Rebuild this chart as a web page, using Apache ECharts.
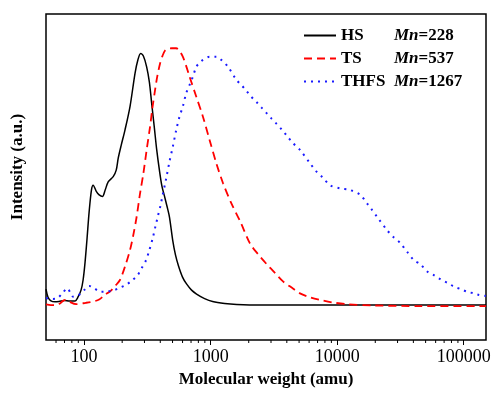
<!DOCTYPE html>
<html>
<head>
<meta charset="utf-8">
<script src="https://cdn.jsdelivr.net/npm/echarts@6/dist/echarts.min.js"></script>
<style>html,body{margin:0;padding:0;background:#fff}#c{width:494px;height:396px}</style>
</head>
<body>
<div id="c"></div>
<script>
// ---- data ----
var seriesNames = ['HS', 'TS', 'THFS'];
var mnValues = [228, 537, 1267];

var hsMW = [50, 51.8, 54.7, 58.9, 63.3, 70.3, 76.0, 84.9, 89.6, 94.6, 98.2, 101.8, 105.6, 109.6, 114.3, 117.9, 125.2, 131.5, 139.7, 146.8, 155.0, 169.9, 179.4, 186.1, 196.6, 210.4, 230.6, 252.6, 266.0, 279.9, 294.1, 312.1, 328, 342, 359.4, 375, 393.7, 412.1, 431.3, 451.5, 472.8, 502.4, 527.4, 557.4, 599.5, 645.0, 706.8, 774.2, 896, 1037, 1291, 1607, 2449, 5083, 10000, 50000, 150000];
var hsI = [15.6, 13.2, 12.0, 11.7, 11.8, 12.1, 12.0, 12.0, 13.2, 15.3, 18.4, 23.9, 31.3, 39.3, 46.0, 47.5, 45.5, 44.5, 44.0, 46.0, 48.5, 50.1, 52.1, 55.8, 59.8, 64.4, 71.6, 81.8, 85.9, 87.9, 87.1, 83.8, 79.1, 72.6, 65.0, 58.3, 52.1, 47.2, 44.2, 41.1, 37.7, 30.4, 26.1, 22.7, 19.3, 17.2, 15.3, 14.1, 12.7, 11.8, 11.2, 10.9, 10.7, 10.7, 10.7, 10.7, 10.7];

var tsMW = [50, 54.7, 59.6, 64.5, 68.1, 71.9, 76.0, 86.4, 103.1, 117.9, 131.5, 148.7, 160.8, 176.2, 192, 210.4, 230.6, 244.9, 260.2, 275.7, 294.1, 312.1, 332, 346.7, 363.9, 379.3, 398.9, 415.9, 436.5, 464.5, 493.1, 534.6, 567.5, 602.6, 641.2, 681, 770.6, 869.4, 982, 1109, 1253, 1459, 1730, 2040, 2360, 2767, 3221, 3750, 4395, 5083, 6105, 7328, 9290, 11940, 19300, 45600, 150000];
var tsI = [10.9, 10.7, 10.7, 11.2, 12.0, 12.3, 11.8, 11.0, 11.4, 11.8, 12.4, 14.1, 14.9, 16.6, 18.4, 22.5, 27.6, 32.2, 37.8, 44.5, 51.1, 58.3, 65.4, 71.2, 76.7, 81.0, 84.9, 87.1, 88.8, 89.4, 89.5, 89.5, 88.7, 86.9, 84.0, 80.8, 74.6, 68.5, 61.3, 54.2, 48.1, 41.9, 36.0, 29.7, 26.4, 23.3, 20.6, 17.9, 16.0, 14.3, 13.1, 12.3, 11.5, 11.0, 10.6, 10.4, 10.4];

var thfsMW = [50, 52.8, 56.8, 61.4, 67.3, 73.7, 77.4, 81.8, 88.0, 94.2, 100, 109.6, 117.9, 126.8, 136.5, 152.3, 173.0, 193.1, 214.3, 236.0, 264.9, 285.8, 309.0, 328, 348.4, 365.6, 381.8, 400.7, 418, 444.6, 472.8, 502.4, 534.6, 567.5, 602.6, 641.2, 681, 724.4, 770.6, 818.5, 869.4, 982, 1109, 1216, 1372, 1600, 1762, 1919, 2075, 2305, 2525, 2767, 3033, 3322, 3641, 3990, 4477, 5083, 6105, 6808, 7568, 8790, 10560, 12680, 15230, 17220, 18840, 20650, 24780, 27800, 31620, 35730, 40360, 45600, 51520, 58080, 65610, 74640, 83750, 94620, 106900, 120000, 132100, 149600];
var thfsI = [12.9, 12.7, 12.6, 12.8, 14.3, 15.9, 14.7, 13.3, 13.5, 14.3, 15.3, 16.6, 16.1, 15.3, 14.8, 14.9, 15.3, 16.1, 16.9, 18.1, 19.9, 22.1, 24.5, 27.6, 31.2, 34.7, 37.8, 41.1, 44.5, 49.4, 54.7, 59.3, 64.4, 68.5, 71.6, 75.7, 78.2, 80.8, 83.8, 85.1, 85.9, 86.9, 86.9, 85.9, 83.8, 79.8, 78.1, 76.4, 74.8, 73.0, 71.3, 69.6, 67.9, 66.3, 64.6, 62.7, 60.4, 58.3, 54.2, 51.8, 50.1, 47.5, 46.5, 46.0, 44.5, 41.9, 39.9, 37.8, 33.7, 31.6, 29.7, 27.0, 24.5, 23.2, 21.0, 19.9, 18.6, 17.5, 16.4, 15.6, 14.8, 14.3, 13.8, 13.5];

var minorTickValues = [60, 70, 80, 90, 200, 300, 400, 500, 600, 700, 800, 900, 2000, 3000, 4000, 5000, 6000, 7000, 8000, 9000, 20000, 30000, 40000, 50000, 60000, 70000, 80000, 90000];

function pairs(xs, ys) { return xs.map(function (x, i) { return [x, ys[i]]; }); }

var FONT = "'Liberation Serif', 'Times New Roman', serif";
var chart = echarts.init(document.getElementById('c'), null, { renderer: 'canvas' });
chart.setOption({
  backgroundColor: '#fff',
  animation: false,
  grid: { left: 46, right: 8, top: 14, bottom: 56, show: true, borderColor: '#000', borderWidth: 1.5, backgroundColor: 'transparent' },
  legend: {
    data: seriesNames,
    orient: 'vertical',
    left: 298, top: 22,
    itemWidth: 32, itemHeight: 14, itemGap: 6,
    itemStyle: { opacity: 0 },
    formatter: function (name) {
      var i = seriesNames.indexOf(name);
      return '{n|' + name + '}{i|Mn}{r|=' + mnValues[i] + '}';
    },
    textStyle: {
      fontFamily: FONT, fontSize: 17, fontWeight: 'bold', color: '#000', lineHeight: 17,
      rich: {
        n: { width: 53, fontFamily: FONT, fontSize: 17, fontWeight: 'bold', color: '#000', lineHeight: 17 },
        i: { fontFamily: FONT, fontSize: 17, fontWeight: 'bold', fontStyle: 'italic', color: '#000', lineHeight: 17 },
        r: { fontFamily: FONT, fontSize: 17, fontWeight: 'bold', color: '#000', lineHeight: 17 }
      }
    }
  },
  xAxis: {
    type: 'log', logBase: 10, min: 50, max: 150000,
    name: 'Molecular weight (amu)', nameLocation: 'middle', nameGap: 31,
    nameTextStyle: { fontFamily: FONT, fontSize: 17, fontWeight: 'bold', color: '#000' },
    axisLine: { show: false },
    axisTick: { show: true, inside: false, length: 5, lineStyle: { color: '#000', width: 1 } },
    axisLabel: { showMinLabel: false, showMaxLabel: false, fontFamily: FONT, fontSize: 18, color: '#000', margin: 8,
      formatter: function (v) { return String(Math.round(v)); } },
    splitLine: { show: false }
  },
  yAxis: {
    type: 'value', min: 0, max: 100,
    name: 'Intensity (a.u.)', nameLocation: 'middle', nameGap: 20, nameRotate: 90,
    nameTextStyle: { fontFamily: FONT, fontSize: 17, fontWeight: 'bold', color: '#000', padding: [0, 0, 0, 20] },
    axisLine: { show: false }, axisTick: { show: false }, axisLabel: { show: false },
    splitLine: { show: false }
  },
  series: [
    { name: 'HS', type: 'line', data: pairs(hsMW, hsI), symbol: 'none', smooth: 0.3,
      lineStyle: { color: '#000', width: 1.5 }, itemStyle: { color: '#000' } },
    { name: 'TS', type: 'line', data: pairs(tsMW, tsI), symbol: 'none', smooth: 0.3,
      lineStyle: { color: '#ff0000', width: 1.8, type: [8, 5] }, itemStyle: { color: '#ff0000' } },
    { name: 'THFS', type: 'line', data: pairs(thfsMW, thfsI), symbol: 'none', smooth: 0.3,
      lineStyle: { color: '#1a1aff', width: 2, type: [2, 5] }, itemStyle: { color: '#1a1aff' } },
    { name: 'minorTicks', type: 'custom', silent: true, clip: false,
      data: minorTickValues.map(function (v) { return [v, 0]; }),
      renderItem: function (params, api) {
        var p = api.coord([api.value(0), 0]);
        return { type: 'line', shape: { x1: p[0], y1: p[1], x2: p[0], y2: p[1] + 3 },
          style: { stroke: '#000', lineWidth: 1 } };
      } }
  ]
});
</script>
</body>
</html>
